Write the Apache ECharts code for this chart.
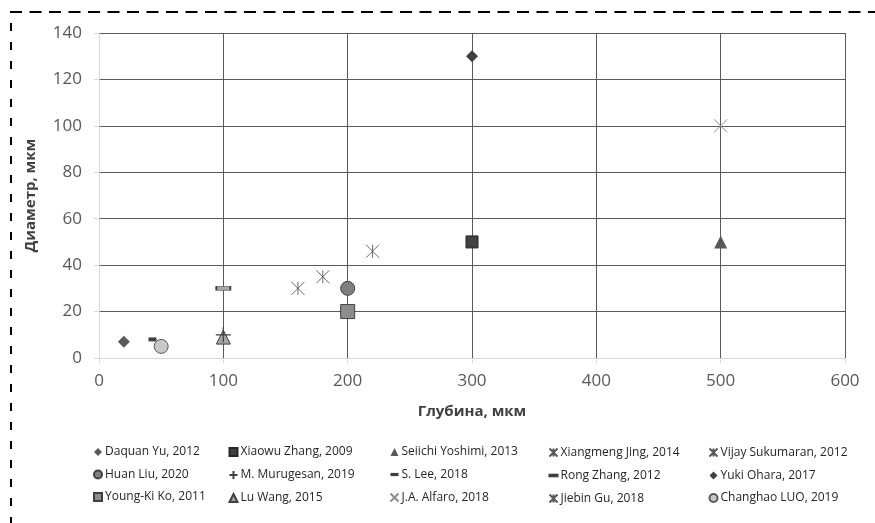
<!DOCTYPE html>
<html>
<head>
<meta charset="utf-8">
<style>
  html, body { margin: 0; padding: 0; background: #fff; }
  #chart { width: 875px; height: 523px; }
</style>
<script src="https://cdn.jsdelivr.net/npm/echarts@6/dist/echarts.min.js"></script>
</head>
<body>
<div id="chart"></div>
<script>
// Source publications (legend order, column by column)
const authors = [
  'Daquan Yu, 2012', 'Huan Liu, 2020', 'Young-Ki Ko, 2011',
  'Xiaowu Zhang, 2009', 'M. Murugesan, 2019', 'Lu Wang, 2015',
  'Seiichi Yoshimi, 2013', 'S. Lee, 2018', 'J.A. Alfaro, 2018',
  'Xiangmeng Jing, 2014', 'Rong Zhang, 2012', 'Jiebin Gu, 2018',
  'Vijay Sukumaran, 2012', 'Yuki Ohara, 2017', 'Changhao LUO, 2019'
];
// Depth, µm
const depth = [20, 200, 200, 300, 100, 100, 500, 43, 500, 160, 100, 220, 180, 300, 50];
// Diameter, µm
const diameter = [7, 30, 20, 50, 10, 9, 50, 8, 100, 30, 30, 46, 35, 130, 5];

const xTicks = { min: 0, max: 600, step: 100 };
const yTicks = { min: 0, max: 140, step: 20 };

const xTitle = 'Глубина, мкм';
const yTitle = 'Диаметр, мкм';

// Marker shapes and styles per series
const STAR = 'path://M0 0 L10 10 M10 0 L0 10 M5 0 L5 10';
const CROSS = 'path://M0 0 L10 10 M10 0 L0 10';
const PLUS = 'path://M0 5 L10 5 M5 0 L5 10';
const DASH_SHORT = 'path://M0 0 L10 0 L10 4 L0 4 Z';
const DASH_LONG = 'path://M0 0 L10 0 L10 2 L0 2 Z';
const markers = [
  { symbol: 'diamond', size: 12, color: '#595959', border: '#595959', bw: 0 },
  { symbol: 'circle', size: 14, color: '#7f7f7f', border: '#404040', bw: 1 },
  { symbol: 'rect', size: 14, color: '#8c8c8c', border: '#404040', bw: 1 },
  { symbol: 'rect', size: 12, color: '#404040', border: '#262626', bw: 1 },
  { symbol: PLUS, size: 15, color: 'none', border: '#404040', bw: 1.2 },
  { symbol: 'triangle', size: 14, color: '#a6a6a6', border: '#404040', bw: 1 },
  { symbol: 'triangle', size: 13, color: '#595959', border: '#595959', bw: 0 },
  { symbol: 'rect', size: [8, 4], color: '#404040', border: '#404040', bw: 0 },
  { symbol: CROSS, size: 13, color: 'none', border: '#8c8c8c', bw: 1 },
  { symbol: STAR, size: 13, color: 'none', border: '#595959', bw: 0.9 },
  { symbol: 'rect', size: [14, 4], color: '#a6a6a6', border: '#404040', bw: 1 },
  { symbol: STAR, size: 13, color: 'none', border: '#595959', bw: 0.9 },
  { symbol: STAR, size: 13, color: 'none', border: '#595959', bw: 0.9 },
  { symbol: 'diamond', size: 12, color: '#404040', border: '#404040', bw: 0 },
  { symbol: 'circle', size: 14, color: '#c8c8c8', border: '#595959', bw: 1 }
];
// Legend icons that differ from the plotted marker
const legendIcons = { 'S. Lee, 2018': DASH_SHORT, 'Rong Zhang, 2012': DASH_LONG };

const FONT = 'Open Sans';
const legendCols = [93, 227, 388, 547, 707];

const series = authors.map((name, i) => ({
  name: name,
  type: 'scatter',
  symbol: markers[i].symbol,
  symbolSize: markers[i].size,
  z: markers[i].symbol === PLUS ? 3 : 2,
  itemStyle: {
    color: markers[i].color,
    borderColor: markers[i].border,
    borderWidth: markers[i].bw,
    opacity: 1
  },
  emphasis: { disabled: true },
  data: [[depth[i], diameter[i]]]
}));

const legends = legendCols.map((left, c) => ({
  orient: 'vertical',
  left: left,
  top: 446,
  itemWidth: 8,
  itemHeight: 8,
  itemGap: 10.5,
  padding: 0,
  selectedMode: false,
  data: authors.slice(c * 3, c * 3 + 3).map(n => legendIcons[n] ? { name: n, icon: legendIcons[n] } : { name: n }),
  textStyle: { fontFamily: FONT, fontSize: 12, color: '#262626', padding: [0, 0, 0, -2] }
}));

const xSplit = [];
for (let v = xTicks.min; v <= xTicks.max; v += xTicks.step) xSplit.push(v === 0 ? '#d9d9d9' : '#595959');
const ySplit = [];
for (let v = yTicks.min; v <= yTicks.max; v += yTicks.step) ySplit.push(v === 0 ? '#d9d9d9' : '#595959');

const chart = echarts.init(document.getElementById('chart'), null, { renderer: 'canvas' });
chart.setOption({
  animation: false,
  backgroundColor: '#ffffff',
  grid: { left: 99, right: 30, top: 33, bottom: 165 },
  xAxis: {
    type: 'value',
    min: xTicks.min, max: xTicks.max, interval: xTicks.step,
    name: xTitle,
    nameLocation: 'middle',
    nameGap: 46,
    nameTextStyle: { fontFamily: FONT, fontSize: 15, fontWeight: 'bold', color: '#404040' },
    axisLine: { show: true, onZero: false, lineStyle: { color: '#d9d9d9', width: 1 } },
    axisTick: { show: true, length: 5, lineStyle: { color: '#d9d9d9' } },
    axisLabel: { fontFamily: FONT, fontSize: 17, color: '#595959', margin: 15 },
    splitLine: { show: true, lineStyle: { color: xSplit, width: 1 } }
  },
  yAxis: {
    type: 'value',
    min: yTicks.min, max: yTicks.max, interval: yTicks.step,
    name: yTitle,
    nameLocation: 'middle',
    nameGap: 61,
    nameRotate: 90,
    nameTextStyle: { fontFamily: FONT, fontSize: 15, fontWeight: 'bold', color: '#404040' },
    axisLine: { show: true, onZero: false, lineStyle: { color: '#d9d9d9', width: 1 } },
    axisTick: { show: true, length: 5, lineStyle: { color: '#d9d9d9' } },
    axisLabel: { fontFamily: FONT, fontSize: 17, color: '#595959', margin: 17 },
    splitLine: { show: true, lineStyle: { color: ySplit, width: 1 } }
  },
  legend: legends,
  series: series,
  graphic: [
    {
      type: 'line', silent: true,
      shape: { x1: 10, y1: 12, x2: 875, y2: 12 },
      style: { stroke: '#000', lineWidth: 2, lineDash: [12, 7.5] }
    },
    {
      type: 'line', silent: true,
      shape: { x1: 11, y1: 12, x2: 11, y2: 523 },
      style: { stroke: '#000', lineWidth: 2, lineDash: [8, 11], lineDashOffset: -11 }
    }
  ]
});
</script>
</body>
</html>
